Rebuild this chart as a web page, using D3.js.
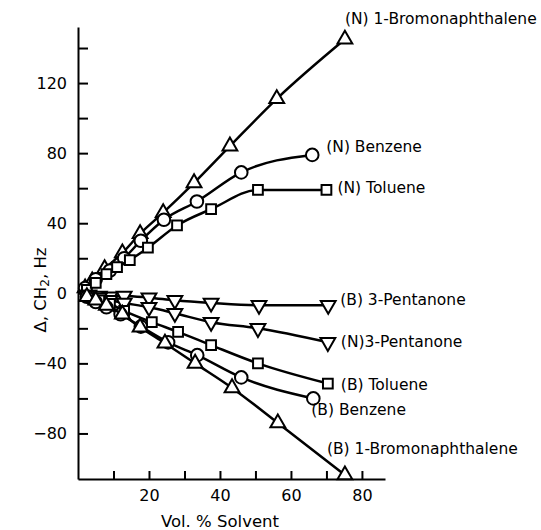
<!DOCTYPE html>
<html>
<head>
<meta charset="utf-8">
<script src="https://cdn.jsdelivr.net/npm/d3@7"></script>
<style>
  body { margin: 0; background: #fff; }
  text { font-family: "DejaVu Sans", "Liberation Sans", sans-serif; fill: #000; }
  .axis path, .axis line { stroke: #000; stroke-width: 2; }
  .axis text { font-size: 16px; }
</style>
</head>
<body>
<div id="chart-area"></div>
<script>
/* data */
const seriesNames = [
  "(N) 1-Bromonaphthalene", "(N) Benzene", "(N) Toluene",
  "(B) 3-Pentanone", "(N)3-Pentanone", "(B) Toluene",
  "(B) Benzene", "(B) 1-Bromonaphthalene"
];
const seriesMarkers = ["up", "circle", "square", "down", "down", "square", "circle", "up"];

const nBromoX = [2, 4, 7.5, 12.5, 17.5, 24, 32.7, 42.8, 56, 75.2];
const nBromoY = [3, 7, 14, 23, 34, 46, 63, 84, 111, 145];
const nBenzX = [2, 5, 9, 13, 17.7, 24.2, 33.5, 46, 66];
const nBenzY = [3, 8, 13, 20, 30, 42, 52.4, 69, 79];
const nTolX = [2.5, 5, 8, 11, 14.6, 19.7, 27.9, 37.5, 50.7, 70];
const nTolY = [2, 6, 11, 15, 19, 26, 38.7, 48, 59, 59];
const bPentX = [3, 6, 9, 13, 20, 27.3, 37.5, 51, 70.5];
const bPentY = [-1, -1.5, -2, -1.5, -2.5, -4, -5.5, -6.8, -6.8];
const nPentX = [3, 6, 9, 13, 20, 27.3, 37.5, 50.7, 70.4];
const nPentY = [-1, -2.5, -4, -5.5, -8, -11.4, -16.5, -20, -28];
const bTolX = [3, 6, 9, 13, 20.8, 28.2, 37.5, 50.7, 70.4];
const bTolY = [-2, -4, -6, -10, -16.5, -22, -29.6, -40, -51.5];
const bBenzX = [2.5, 5, 8, 12, 17.7, 25.4, 33.6, 46, 66.3];
const bBenzY = [-2, -5, -8, -12, -19, -28, -35.3, -48, -60];
const bBromoX = [2.5, 5, 8, 12.5, 17.5, 24.5, 33, 43.4, 56.3, 75.2];
const bBromoY = [-2, -4, -7, -12, -19.4, -28.5, -40, -54, -74, -103.7];

const seriesX = [nBromoX, nBenzX, nTolX, bPentX, nPentX, bTolX, bBenzX, bBromoX];
const seriesY = [nBromoY, nBenzY, nTolY, bPentY, nPentY, bTolY, bBenzY, bBromoY];

const xTicks = [10, 20, 30, 40, 50, 60, 70, 80];
const yTicks = [-80, -60, -40, -20, 0, 20, 40, 60, 80, 100, 120, 140];

/* label placement relative to the last point of each series (px) */
const labelOffset = [[0, -20], [14, -8], [11, -2], [12, -5], [13, 0], [13, 1], [-2, 12], [-18, -26]];

/* graphical constants */
const W = 541, H = 530;
const svg = d3.select("#chart-area").append("svg")
    .attr("width", W)
    .attr("height", H);

const x = d3.scaleLinear().domain([0, 86.5]).range([78, 385]);
const y = d3.scaleLinear().domain([-106, 152]).range([479, 27]);

const fmt = d => (d < 0 ? "\u2212" + Math.abs(d) : "" + d);

// Y axis, ticks pointing inward
svg.append("g")
    .attr("class", "axis")
    .attr("transform", "translate(" + x(0) + ",0)")
    .call(d3.axisLeft(y)
        .tickValues(yTicks)
        .tickSizeInner(-10)
        .tickSizeOuter(0)
        .tickPadding(11)
        .tickFormat(d => (d % 40 === 0 ? fmt(d) : "")));

// X axis
svg.append("g")
    .attr("class", "axis")
    .attr("transform", "translate(0," + y(-106) + ")")
    .call(d3.axisBottom(x)
        .tickValues(xTicks)
        .tickSizeInner(-8)
        .tickSizeOuter(0)
        .tickPadding(11)
        .tickFormat(d => (d % 20 === 0 ? d : "")));

svg.selectAll(".axis .domain").attr("stroke-width", 2.4);

// axis titles
svg.append("text")
    .attr("x", 220)
    .attr("y", 521)
    .attr("text-anchor", "middle")
    .attr("dominant-baseline", "central")
    .style("font-size", "16.5px")
    .text("Vol. % Solvent");

const yTitle = svg.append("text")
    .attr("transform", "translate(40,290) rotate(-90)")
    .attr("text-anchor", "middle")
    .attr("dominant-baseline", "central")
    .style("font-size", "16.5px");
yTitle.append("tspan").text("\u0394, CH");
yTitle.append("tspan").attr("dy", 5).style("font-size", "12px").text("2");
yTitle.append("tspan").attr("dy", -5).text(", Hz");

const line = d3.line()
    .x(d => x(d[0]))
    .y(d => y(d[1]))
    .curve(d3.curveMonotoneX);

const triUp = d3.symbol().type(d3.symbolTriangle).size(95);
const triDown = d3.symbol().type(d3.symbolTriangle).size(95);
const sq = d3.symbol().type(d3.symbolSquare).size(95);

seriesNames.forEach((name, i) => {
    const pts = seriesX[i].map((v, j) => [v, seriesY[i][j]]);
    const g = svg.append("g");

    g.append("path")
        .datum(pts)
        .attr("d", line)
        .attr("fill", "none")
        .attr("stroke", "#000")
        .attr("stroke-width", 2.5);

    const m = g.selectAll(".pt").data(pts).enter();
    const kind = seriesMarkers[i];
    if (kind === "circle") {
        m.append("circle")
            .attr("cx", d => x(d[0]))
            .attr("cy", d => y(d[1]))
            .attr("r", 6.3)
            .attr("fill", "#fff")
            .attr("stroke", "#000")
            .attr("stroke-width", 2);
    } else {
        const gen = kind === "square" ? sq : (kind === "up" ? triUp : triDown);
        m.append("path")
            .attr("d", gen)
            .attr("transform", d => "translate(" + x(d[0]) + "," + y(d[1]) + ")" +
                (kind === "down" ? " rotate(180)" : ""))
            .attr("fill", "#fff")
            .attr("stroke", "#000")
            .attr("stroke-width", 2);
    }

    const last = pts[pts.length - 1];
    g.append("text")
        .attr("x", x(last[0]) + labelOffset[i][0])
        .attr("y", y(last[1]) + labelOffset[i][1])
        .attr("dominant-baseline", "central")
        .style("font-size", "15.5px")
        .text(name);
});
</script>
</body>
</html>
